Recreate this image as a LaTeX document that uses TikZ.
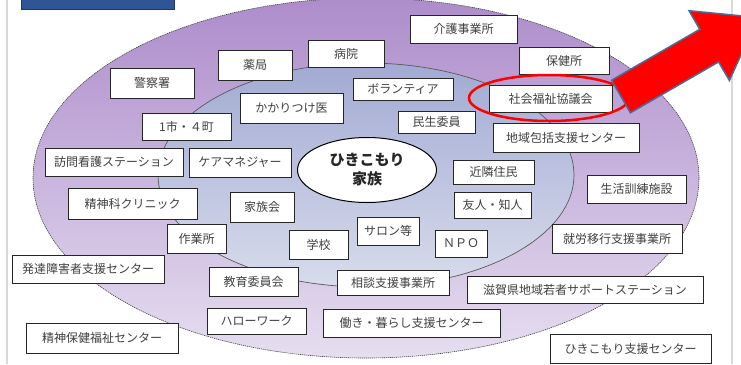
\documentclass[tikz,border=0pt]{standalone}
\usepackage{fontspec}
\newfontfamily\jp{Noto Sans CJK JP}
\usetikzlibrary{shapes.geometric}
\definecolor{txt}{HTML}{404040}
\definecolor{boxc}{HTML}{262626}
\definecolor{outtop}{HTML}{AD8CCB}
\definecolor{outbot}{HTML}{E6DEF0}
\definecolor{intop}{HTML}{A2AAD3}
\definecolor{inbot}{HTML}{D8DCEC}
\definecolor{pagec}{HTML}{D9D9D9}
\definecolor{titlec}{HTML}{2F5597}
\definecolor{titleb}{HTML}{203864}
\definecolor{arrowb}{HTML}{41719C}
\newcommand\jbox[6]{\node[box,minimum width={(#4-#2)*1pt},minimum height={(#5-#3)*1pt}] (#1) at ({(#2+#4)/2},{(#3+#5)/2}) {#6};}
\begin{document}
\begin{tikzpicture}[x=1pt,y=-1pt,
  box/.style={draw=boxc,line width=0.9pt,fill=white,inner sep=0pt,
    font=\jp\fontsize{12}{14}\selectfont,text=txt},
  pageline/.style={draw=pagec,line width=2pt},
  outerring/.style={top color=outtop,bottom color=outbot,draw=black!75,line width=0.6pt,dash pattern=on 1.2pt off 0.8pt},
  innerring/.style={top color=intop,bottom color=inbot,draw=black!65,line width=0.7pt},
  core/.style={ellipse,draw=black,line width=1pt,fill=white,minimum width=139pt,minimum height=65pt,
    inner sep=0pt,align=center,font=\jp\bfseries\fontsize{15}{19}\selectfont,text=black!85},
  redring/.style={draw=red,line width=2.5pt},
  bigarrow/.style={draw=arrowb,fill=red,line width=1.5pt,line join=miter}]
\useasboundingbox (0,0) rectangle (741,364);
\clip (0,0) rectangle (741,364);
\fill[white] (0,0) rectangle (741,364);
\draw[pageline] (7,0) -- (7,364);
\draw[pageline] (732,0) -- (732,364);
\draw[fill=titlec,draw=titleb,line width=0.8pt] (21,-5) rectangle (174,9);
\path[outerring] (366,178) ellipse [x radius=333pt,y radius=180pt];
\path[innerring] (366,175) ellipse [x radius=208pt,y radius=112pt];
\node[core] (family) at (367,170) {ひきこもり\\家族};
\jbox{keisatsu}{110}{68}{194}{98}{警察署}
\jbox{yakkyoku}{218}{50}{292}{80}{薬局}
\jbox{byoin}{308}{40}{384}{67}{病院}
\jbox{kaigo}{410}{15}{517}{43}{介護事業所}
\jbox{hoken}{519}{47}{609}{74}{保健所}
\jbox{shakyo}{489}{85}{612}{112}{社会福祉協議会}
\jbox{chiiki}{493}{123}{639}{152}{地域包括支援センター}
\jbox{ichishi}{142}{113}{231}{140}{1市・４町}
\jbox{kakari}{240}{93}{343}{123}{かかりつけ医}
\jbox{borantia}{353}{78}{453}{100}{ボランティア}
\jbox{minsei}{398}{111}{475}{133}{民生委員}
\jbox{houmon}{45}{148}{183}{176}{訪問看護ステーション}
\jbox{keamane}{189}{148}{291}{177}{ケアマネジャー}
\jbox{seishinka}{68}{188}{197}{219}{精神科クリニック}
\jbox{kazokukai}{230}{192}{294}{222}{家族会}
\jbox{kinrin}{453}{160}{534}{184}{近隣住民}
\jbox{yujin}{454}{192}{531}{218}{友人・知人}
\jbox{seikatsu}{587}{175}{686}{203}{生活訓練施設}
\jbox{sagyo}{167}{224}{226}{253}{作業所}
\jbox{gakko}{289}{230}{348}{259}{学校}
\jbox{salon}{357}{217}{419}{245}{サロン等}
\jbox{npo}{435}{230}{487}{257}{ＮＰＯ}
\jbox{shuro}{552}{224}{682}{253}{就労移行支援事業所}
\jbox{hattatsu}{12}{255}{164}{283}{発達障害者支援センター}
\jbox{kyoiku}{209}{267}{298}{296}{教育委員会}
\jbox{sodan}{337}{270}{449}{295}{相談支援事業所}
\jbox{shiga}{467}{276}{703}{303}{滋賀県地域若者サポートステーション}
\jbox{hello}{207}{308}{306}{334}{ハローワーク}
\jbox{hataraki}{323}{309}{500}{337}{働き・暮らし支援センター}
\jbox{seishinhoken}{26}{323}{178}{353}{精神保健福祉センター}
\jbox{hikisien}{550}{334}{711}{363}{ひきこもり支援センター}
\draw[redring] (549,98) ellipse [x radius=80pt,y radius=23pt];
\draw[bigarrow] (611.6,80.2) -- (699.8,29.3) -- (689,10.7) -- (758,17.5) -- (729.4,80.5) -- (718.6,61.9) -- (630.4,112.8) -- cycle;
\end{tikzpicture}
\end{document}
